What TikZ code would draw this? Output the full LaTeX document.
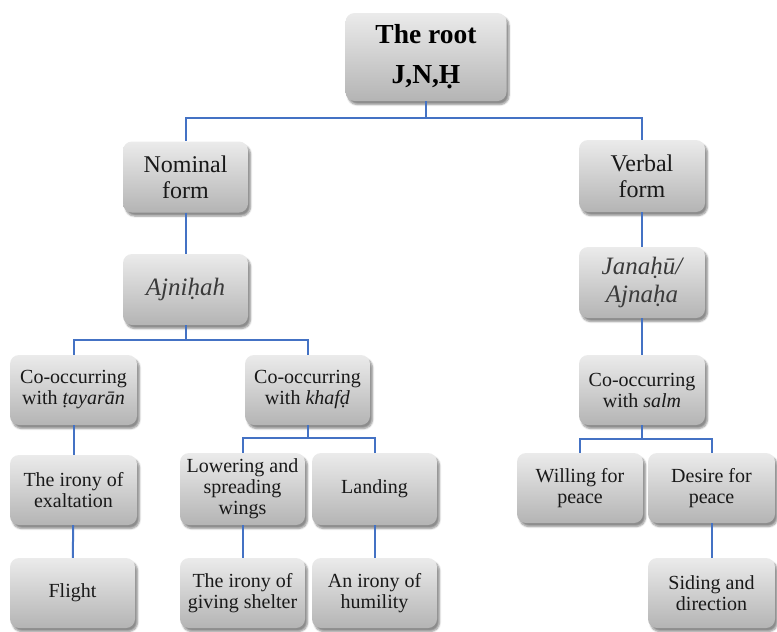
\documentclass[tikz,border=0pt]{standalone}
\usepackage{fontspec}
\setmainfont{Liberation Serif}
\newfontfamily\tnr{Liberation Serif}
\usetikzlibrary{shadows.blur}
\definecolor{linkblue}{HTML}{4472C4}
\definecolor{boxtop}{HTML}{EBEBEB}
\definecolor{boxbot}{HTML}{B4B4B4}
\definecolor{softtext}{HTML}{3A3A3A}
\tikzset{
  box/.style={rounded corners=9pt, top color=boxtop, bottom color=boxbot, draw=none,
    blur shadow={shadow xshift=2.5pt, shadow yshift=-3.5pt, shadow blur steps=6, shadow opacity=45},
    align=center, inner sep=2pt, minimum width=125pt, minimum height=70pt,
    font=\tnr\fontsize{20}{21}\selectfont, text=black!90},
  bigbox/.style={box, font=\tnr\fontsize{24}{26}\selectfont},
  rootbox/.style={box, minimum width=161pt, minimum height=88pt, font=\tnr\fontsize{27.5}{40}\selectfont\bfseries, text=black},
  ital/.style={box, font=\tnr\fontsize{25}{28}\selectfont\itshape, text=softtext},
  link/.style={draw=linkblue, line width=2pt}
}
\begin{document}
\begin{tikzpicture}[x=1pt,y=-1pt]
\useasboundingbox (0,0) rectangle (777,632);
\node[rootbox] (root) at (426,57) {The root\\J,N,Ḥ};
\node[bigbox, minimum height=71pt] (nom) at (185.5,177) {Nominal\\form};
\node[ital, minimum height=71pt] (ajn) at (185.5,289.5) {Ajniḥah};
\node[bigbox, minimum width=126pt, minimum height=72pt] (verb) at (642,176) {Verbal\\form};
\node[ital, minimum width=126pt, minimum height=71pt] (jan) at (642,282.5) {Janaḥū/\\Ajnaḥa};
\node[box, minimum width=127pt] (tay) at (73.5,390) {Co-occurring\\with \textit{ṭayarān}};
\node[box] (khf) at (307.5,390) {Co-occurring\\with \textit{khafḍ}};
\node[box, minimum width=126pt] (salm) at (642,390) {Co-occurring\\with \textit{salm}};
\node[box, minimum width=127pt] (exal) at (73.5,490) {The irony of\\exaltation};
\node[box, minimum height=72pt] (lower) at (242.5,489) {Lowering and\\spreading\\wings};
\node[box, minimum height=72pt] (land) at (374.5,489) {Landing};
\node[box, minimum width=126pt] (will) at (580,488) {Willing for\\peace};
\node[box, minimum width=127pt] (desire) at (711.5,488) {Desire for\\peace};
\node[box] (flight) at (72.5,593) {Flight};
\node[box] (shelter) at (242.5,593) {The irony of\\giving shelter};
\node[box] (humil) at (374.5,593) {An irony of\\humility};
\node[box, minimum width=127pt] (siding) at (711.5,593) {Siding and\\direction};
\draw[link] (root.south) -- ++(0,17) -| (nom.north);
\draw[link] (root.south) -- ++(0,17) -| (verb.north);
\draw[link] (nom) -- (ajn);
\draw[link] (ajn.south) -- ++(0,15) -| (tay.north);
\draw[link] (ajn.south) -- ++(0,15) -| (khf.north);
\draw[link] (tay) -- (exal);
\draw[link] (exal) -- (flight);
\draw[link] (khf.south) -- ++(0,13) -| (lower.north);
\draw[link] (khf.south) -- ++(0,13) -| (land.north);
\draw[link] (lower) -- (shelter);
\draw[link] (land) -- (humil);
\draw[link] (verb) -- (jan);
\draw[link] (jan) -- (salm);
\draw[link] (salm.south) -- ++(0,14) -| (will.north);
\draw[link] (salm.south) -- ++(0,14) -| (desire.north);
\draw[link] (desire) -- (siding);
\end{tikzpicture}
\end{document}
